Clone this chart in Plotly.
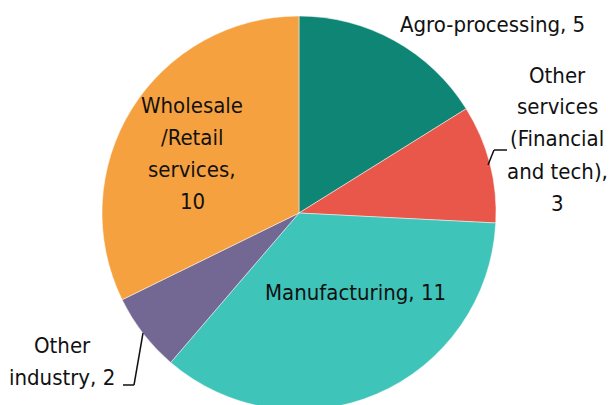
import plotly.graph_objects as go

# Data
categories = ["Agro-processing", "Other services (Financial and tech)", "Manufacturing",
              "Other industry", "Wholesale/Retail services"]
values = [5, 3, 11, 2, 10]
colors = ["#0f8575", "#e8574a", "#3fc4ba", "#736794", "#f6a140"]

# label text layout (line-broken versions of the categories)
label_lines = [["Agro-processing, {v}"],
               ["Other", "services", "(Financial", "and tech),", "{v}"],
               ["Manufacturing, {v}"],
               ["Other", "industry, {v}"],
               ["Wholesale", "/Retail", "services,", "{v}"]]

W, H = 612, 426
FONT = "DejaVu Sans Condensed, Liberation Sans Narrow, Arial Narrow, sans-serif"

def px(x):
    return x / W

def py(y):
    return 1 - y / H

cx, cy, r = 299, 213, 197

fig = go.Figure(go.Pie(
    labels=categories,
    values=values,
    sort=False,
    direction="clockwise",
    rotation=0,
    marker=dict(colors=colors, line=dict(color="rgba(255,255,255,0.6)", width=0.8)),
    textinfo="none",
    hoverinfo="label+value",
    domain=dict(x=[px(cx - r), px(cx + r)], y=[py(cy + r), py(cy - r)]),
    showlegend=False,
))

# label positions: (center x, first line y) in pixels, line spacing 32
label_pos = [(492, 25), (557, 75), (355, 292), (62, 345), (192, 105)]
LINE = 32
for i, (x, y) in enumerate(label_pos):
    for j, line in enumerate(label_lines[i]):
        fig.add_annotation(
            x=px(x), y=py(y + j * LINE), xref="paper", yref="paper",
            text=line.format(v=values[i]),
            showarrow=False, xanchor="center", yanchor="middle",
            font=dict(family=FONT, size=22, color="#111111"),
            align="center",
        )

# leader lines
leaders = [
    [(488, 165), (494, 150), (507, 150)],
    [(143, 333), (134, 385), (123, 385)],
]
for pts in leaders:
    for (x0, y0), (x1, y1) in zip(pts[:-1], pts[1:]):
        fig.add_shape(type="line", xref="paper", yref="paper",
                      x0=px(x0), y0=py(y0), x1=px(x1), y1=py(y1),
                      line=dict(color="#111111", width=1.5))

fig.update_layout(
    width=W, height=H,
    margin=dict(l=0, r=0, t=0, b=0),
    paper_bgcolor="white",
    plot_bgcolor="white",
)

fig.write_html(
    "out.html",
    config={"displayModeBar": False},
    post_script="document.body.style.margin='0';document.body.style.overflow='hidden';document.documentElement.style.overflow='hidden';",
)
